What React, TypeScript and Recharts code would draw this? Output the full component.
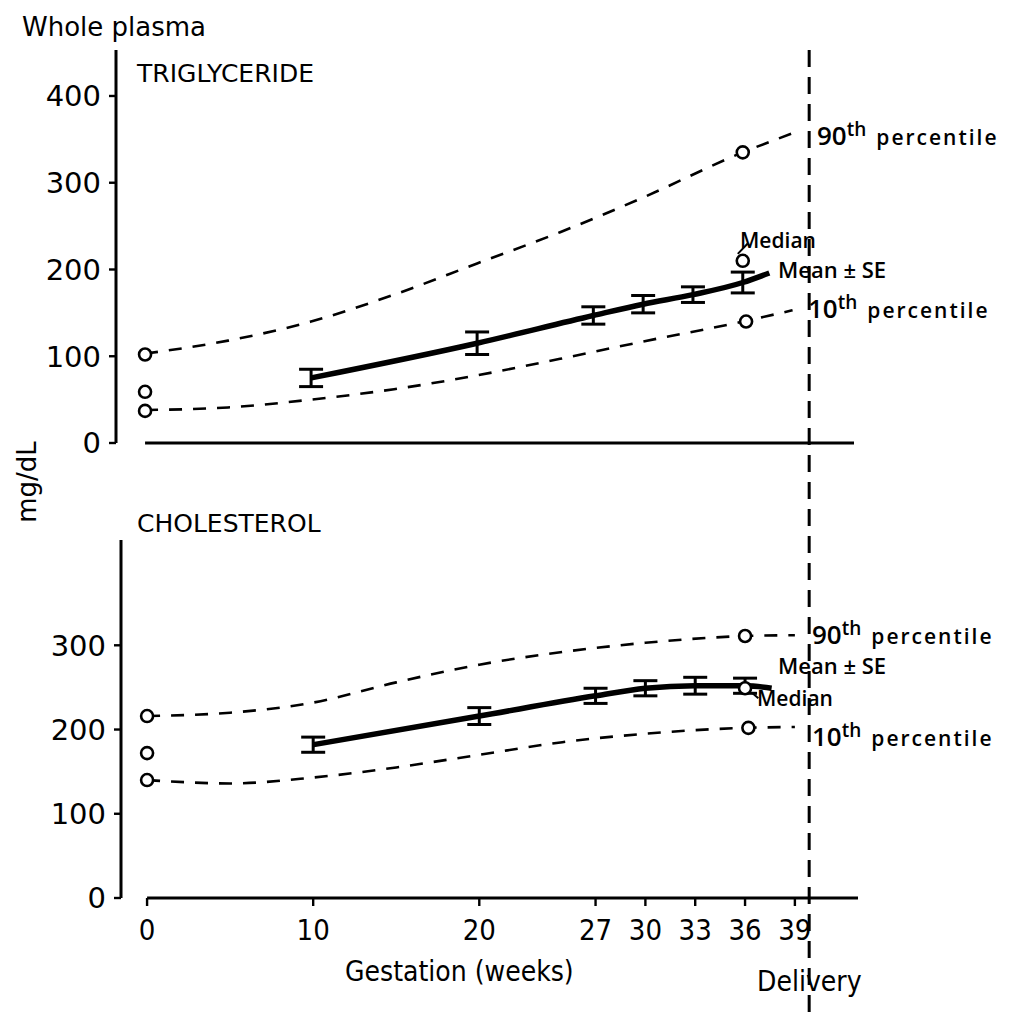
import React from 'react';
import { ComposedChart, Line, Scatter, XAxis, YAxis, ErrorBar, ReferenceLine } from 'recharts';

const WEEK_TICKS = [0, 10, 20, 27, 30, 33, 36, 39];
const TG_Y_TICKS = [0, 100, 200, 300, 400];
const CH_Y_TICKS = [0, 100, 200, 300];
const DELIVERY_WEEK = 40;

// percentile curves, mg/dL by week
const PCT_WEEKS = [0, 5, 10, 15, 20, 25, 30, 36, 39];
const TG_P90 = [103, 118, 140, 171, 207, 243, 283, 335, 357];
const TG_P10 = [38, 41, 50, 62, 78, 97, 117, 140, 153];
const CH_P90 = [216, 220, 232, 256, 277, 292, 303, 311, 312];
const CH_P10 = [140, 136, 143, 155, 170, 185, 195, 202, 203];

// mean ± SE (last point is the end of the curve, no bar)
const MEAN_WEEKS = [10, 20, 27, 30, 33, 36, 37.6];
const TG_MEAN = [75, 115, 147, 160, 171, 185, 196];
const TG_SE = [10, 13, 10, 10, 9, 12, 0];
const CH_MEAN = [182, 216, 240, 249, 252, 252, 249];
const CH_SE = [9, 10, 9, 9, 10, 9, 0];

// open circles: week 0 (90th, median, 10th) and week 36 (90th, median, 10th)
const CIRCLE_WEEKS = [0, 0, 0, 36, 36, 36.2];
const TG_CIRCLES = [102, 59, 37, 335, 210, 140];
const CH_CIRCLES = [216, 172, 140, 311, 249, 202];

const pts = (ws: number[], vs: number[]) => ws.map((w, i) => ({ w, v: vs[i] }));
const meanPts = (ms: number[], ses: number[]) => MEAN_WEEKS.map((w, i) => ({ w, v: ms[i], se: ses[i] }));

const openCircle = (p: any) => (
  <circle cx={p.cx} cy={p.cy} r={6} fill="#fff" stroke="#000" strokeWidth={2.6} />
);

const dash = { stroke: '#000', strokeWidth: 2.6, strokeDasharray: '13 11' };
const FONT = '"DejaVu Sans", sans-serif';
const COND = '"DejaVu Sans Condensed", "DejaVu Sans", sans-serif';

function Panel({ p90, p10, mean, se, circles, yTicks, yMax, margin, xDomain, showLabels, medianLeader, delivery }: any) {
  return (
    <ComposedChart width={1020} height={1020} margin={margin} style={{ position: 'absolute', left: 0, top: 0 }}>
      <XAxis
        type="number"
        dataKey="w"
        domain={xDomain}
        ticks={WEEK_TICKS}
        allowDataOverflow
        axisLine={false}
        tickLine={{ stroke: '#000', strokeWidth: 2.4 }}
        tickSize={8}
        tickMargin={13}
        height={showLabels ? 60 : 20}
        tick={showLabels ? { fill: '#000', fontSize: 29, fontFamily: COND } : false}
      />
      <YAxis
        type="number"
        dataKey="v"
        domain={[0, yMax]}
        ticks={yTicks}
        allowDataOverflow
        width={60}
        axisLine={{ stroke: '#000', strokeWidth: 3 }}
        tickLine={{ stroke: '#000', strokeWidth: 2.4 }}
        tickSize={7}
        tickMargin={8}
        tick={{ fill: '#000', fontSize: 29, fontFamily: FONT }}
      />
      <ReferenceLine
        segment={[{ x: 0, y: 0 }, { x: xDomain[1], y: 0 }]}
        stroke="#000"
        strokeWidth={3}
        ifOverflow="visible"
      />
      {delivery && (
        <ReferenceLine
          segment={delivery}
          stroke="#000"
          strokeWidth={3}
          strokeDasharray="17 10"
          ifOverflow="visible"
        />
      )}
      <Line data={pts(PCT_WEEKS, p90)} dataKey="v" type="monotone" dot={false} {...dash} isAnimationActive={false} />
      <Line data={pts(PCT_WEEKS, p10)} dataKey="v" type="monotone" dot={false} {...dash} isAnimationActive={false} />
      <Line
        data={meanPts(mean, se)}
        dataKey="v"
        type="monotone"
        dot={false}
        stroke="#000"
        strokeWidth={5.5}
        isAnimationActive={false}
      >
        <ErrorBar dataKey="se" width={12} stroke="#000" strokeWidth={3} direction="y" isAnimationActive={false} />
      </Line>
      <ReferenceLine segment={medianLeader} stroke="#000" strokeWidth={2} ifOverflow="visible" />
      <Scatter data={pts(CIRCLE_WEEKS, circles)} dataKey="v" shape={openCircle} isAnimationActive={false} />
    </ComposedChart>
  );
}

const txt = (left: number, top: number, size: number, extra: any = {}): React.CSSProperties => ({
  position: 'absolute',
  left,
  top,
  fontSize: size,
  lineHeight: 1,
  fontFamily: FONT,
  color: '#000',
  whiteSpace: 'nowrap',
  ...extra,
});

const ann = { fontWeight: 600, fontFamily: '"Open Sans", sans-serif' };

function Pct({ left, top, n }: { left: number; top: number; n: string }) {
  return (
    <div style={txt(left, top, 26, ann)}>
      {n}
      <span style={{ fontSize: 19, position: 'relative', top: -9 }}>th</span>
      <span style={{ fontSize: 21, marginLeft: 10, letterSpacing: 2 }}>percentile</span>
    </div>
  );
}

export default function App() {
  return (
    <div style={{ position: 'absolute', left: 0, top: 0, width: 1020, height: 1020, background: '#fff', overflow: 'hidden' }}>
      <Panel
        p90={TG_P90}
        p10={TG_P10}
        mean={TG_MEAN}
        se={TG_SE}
        circles={TG_CIRCLES}
        yTicks={TG_Y_TICKS}
        yMax={453}
        xDomain={[-1.75, 42.7]}
        margin={{ top: 50, right: 166, left: 56, bottom: 557 }}
        showLabels={false}
        medianLeader={[{ x: 35.7, y: 218 }, { x: 36.3, y: 230 }]}
        delivery={[{ x: DELIVERY_WEEK, y: 453 }, { x: DELIVERY_WEEK, y: -670 }]}
      />
      <Panel
        p90={CH_P90}
        p10={CH_P10}
        mean={CH_MEAN}
        se={CH_SE}
        circles={CH_CIRCLES}
        yTicks={CH_Y_TICKS}
        yMax={425}
        xDomain={[-1.57, 42.8]}
        margin={{ top: 540, right: 162, left: 61, bottom: 62 }}
        showLabels
        medianLeader={[{ x: 36.4, y: 244 }, { x: 36.8, y: 237 }]}
      />

      <div style={txt(22, 14, 26)}>Whole plasma</div>
      <div style={txt(137, 61, 25)}>TRIGLYCERIDE</div>
      <div style={txt(137, 511, 25)}>CHOLESTEROL</div>
      <div style={txt(27, 482, 26, { transform: 'translate(-50%, -50%) rotate(-90deg)' })}>mg/dL</div>

      <Pct left={817} top={122} n="90" />
      <div style={txt(740, 230, 21, ann)}>Median</div>
      <div style={txt(778, 258, 22, ann)}>Mean ± SE</div>
      <Pct left={808} top={295} n="10" />

      <Pct left={812} top={621} n="90" />
      <div style={txt(778, 654, 22, ann)}>Mean ± SE</div>
      <div style={txt(757, 688, 21, ann)}>Median</div>
      <Pct left={812} top={723} n="10" />

      <div style={txt(345, 958, 28, { fontFamily: COND })}>Gestation (weeks)</div>
      <div style={txt(757, 968, 28, { fontFamily: COND })}>Delivery</div>
    </div>
  );
}
